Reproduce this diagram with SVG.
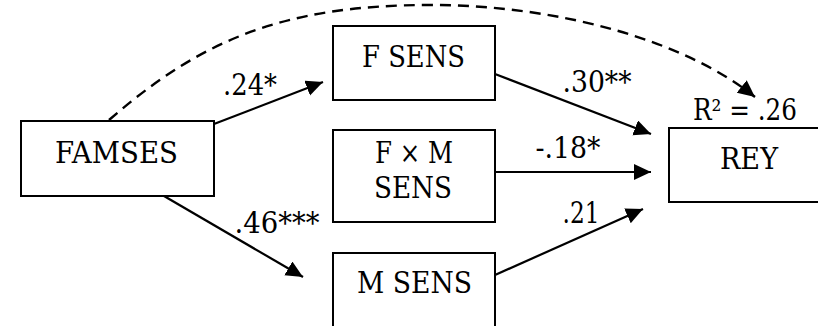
<svg xmlns="http://www.w3.org/2000/svg" width="818" height="326" viewBox="0 0 818 326">
<style>
  .box { fill: #fff; stroke: #000; stroke-width: 2; }
  .lbl { font-family: 'DejaVu Serif', serif; font-size: 29px; fill: #000; text-anchor: middle; }
  .edge { fill: none; stroke: #000; stroke-width: 2.2; marker-end: url(#ah); }
  .dash { stroke-width: 2.4; stroke-dasharray: 11 7; }
</style>
<defs>
  <marker id="ah" markerUnits="userSpaceOnUse" markerWidth="18" markerHeight="17" refX="17" refY="8" orient="auto" viewBox="0 0 18 17">
    <path d="M0,0 L17,8 L0,16 z" fill="#000"/>
  </marker>
</defs>
<rect width="818" height="326" fill="#fff"/>
<g id="connectors">
  <path class="edge dash" d="M109,120 C199,42 280,5 430,5 C560,5 685,41 755,97"/>
  <line class="edge" x1="214" y1="124" x2="323" y2="82"/>
  <line class="edge" x1="164" y1="196" x2="303" y2="277"/>
  <line class="edge" x1="495" y1="74" x2="651" y2="134"/>
  <line class="edge" x1="495" y1="172" x2="651" y2="172"/>
  <line class="edge" x1="495" y1="275" x2="643" y2="209"/>
  <text class="lbl" x="250" y="95" textLength="54" lengthAdjust="spacingAndGlyphs">.24*</text>
  <text class="lbl" x="277" y="233" textLength="85" lengthAdjust="spacingAndGlyphs">.46***</text>
  <text class="lbl" x="597" y="92" textLength="69" lengthAdjust="spacingAndGlyphs">.30**</text>
  <text class="lbl" x="568" y="158" textLength="65" lengthAdjust="spacingAndGlyphs">-.18*</text>
  <text class="lbl" x="581" y="223" textLength="37" lengthAdjust="spacingAndGlyphs">.21</text>
</g>
<g id="famses">
  <rect class="box" x="21" y="121" width="193" height="75"/>
  <text class="lbl" x="116.5" y="163" textLength="123" lengthAdjust="spacingAndGlyphs">FAMSES</text>
</g>
<g id="fsens">
  <rect class="box" x="333" y="26" width="162" height="74"/>
  <text class="lbl" x="413.5" y="67" textLength="103" lengthAdjust="spacingAndGlyphs">F SENS</text>
</g>
<g id="fmsens">
  <rect class="box" x="333" y="130" width="162" height="92"/>
  <text class="lbl" x="414" y="163" textLength="78" lengthAdjust="spacingAndGlyphs">F × M</text>
  <text class="lbl" x="413" y="198" textLength="78" lengthAdjust="spacingAndGlyphs">SENS</text>
</g>
<g id="msens">
  <rect class="box" x="333" y="253" width="162" height="90"/>
  <text class="lbl" x="414.5" y="293" textLength="115" lengthAdjust="spacingAndGlyphs">M SENS</text>
</g>
<g id="rey">
  <rect class="box" x="669" y="128" width="160" height="74"/>
  <text class="lbl" x="749" y="169" textLength="58" lengthAdjust="spacingAndGlyphs">REY</text>
  <text class="lbl" x="745" y="120" textLength="104" lengthAdjust="spacingAndGlyphs">R² = .26</text>
</g>
</svg>
